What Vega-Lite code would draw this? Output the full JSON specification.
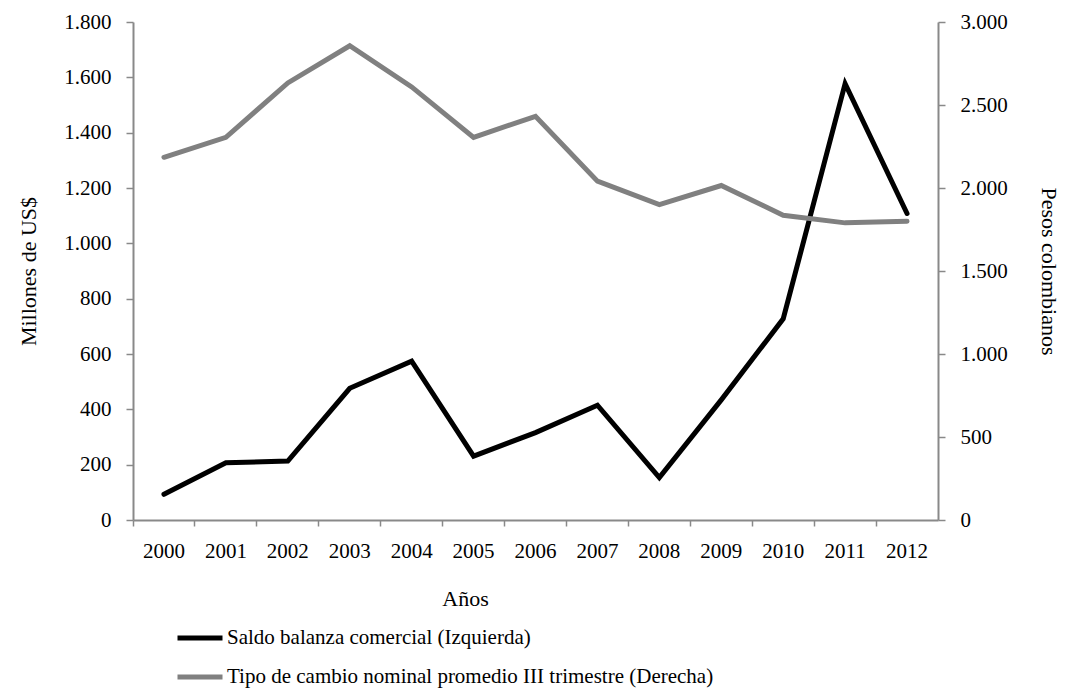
{
  "$schema": "https://vega.github.io/schema/vega-lite/v6.json",
  "width": 805,
  "height": 498,
  "autosize": {"type": "none"},
  "padding": {"left": 133, "top": 22, "right": 135, "bottom": 174},
  "background": "white",
  "config": {
    "font": "Liberation Serif",
    "view": {"stroke": null},
    "axis": {
      "labelFont": "Liberation Serif",
      "titleFont": "Liberation Serif",
      "labelFontSize": 21,
      "titleFontSize": 22,
      "labelColor": "black",
      "titleColor": "black",
      "titleFontWeight": "normal",
      "domainColor": "#898989",
      "tickColor": "#898989",
      "domainWidth": 2,
      "tickWidth": 1.5,
      "grid": false
    },
    "legend": {
      "labelFont": "Liberation Serif",
      "labelFontSize": 21,
      "labelColor": "black"
    }
  },
  "data": {
    "values": [
      {"anio": "2000", "saldo": 93, "tipo": 2185},
      {"anio": "2001", "saldo": 207, "tipo": 2305},
      {"anio": "2002", "saldo": 213, "tipo": 2633},
      {"anio": "2003", "saldo": 476, "tipo": 2857},
      {"anio": "2004", "saldo": 574, "tipo": 2609},
      {"anio": "2005", "saldo": 231, "tipo": 2305},
      {"anio": "2006", "saldo": 316, "tipo": 2432},
      {"anio": "2007", "saldo": 415, "tipo": 2041},
      {"anio": "2008", "saldo": 153, "tipo": 1900},
      {"anio": "2009", "saldo": 434, "tipo": 2015},
      {"anio": "2010", "saldo": 727, "tipo": 1836},
      {"anio": "2011", "saldo": 1577, "tipo": 1790},
      {"anio": "2012", "saldo": 1108, "tipo": 1800}
    ]
  },
  "encoding": {
    "x": {
      "field": "anio",
      "type": "ordinal",
      "scale": {"type": "band", "paddingInner": 0, "paddingOuter": 0},
      "axis": {
        "title": "Años",
        "labelAngle": 0,
        "bandPosition": 0,
        "tickSize": 6,
        "labelPadding": 14,
        "titleX": 332,
        "titleY": 78,
        "titleBaseline": "middle"
      }
    }
  },
  "layer": [
    {
      "mark": {"type": "line", "strokeWidth": 5, "strokeCap": "round", "strokeJoin": "miter"},
      "encoding": {
        "y": {
          "field": "saldo",
          "type": "quantitative",
          "scale": {"domain": [0, 1800]},
          "axis": {
            "title": "Millones de US$",
            "orient": "left",
            "values": [0, 200, 400, 600, 800, 1000, 1200, 1400, 1600, 1800],
            "labelExpr": "replace(format(datum.value, ','), ',', '.')",
            "tickSize": 7,
            "labelPadding": 15,
            "titlePadding": 23
          }
        },
        "color": {
          "datum": "Saldo balanza comercial (Izquierda)",
          "type": "nominal",
          "scale": {
            "domain": ["Saldo balanza comercial (Izquierda)", "Tipo de cambio nominal promedio III trimestre (Derecha)"],
            "range": ["#000000", "#808080"]
          },
          "legend": {
            "title": null,
            "orient": "none",
            "legendX": 42,
            "legendY": 591,
            "symbolType": "stroke",
            "symbolSize": 2025,
            "symbolStrokeWidth": 5,
            "labelOffset": 2,
            "rowPadding": 4,
            "labelLimit": 800
          }
        }
      }
    },
    {
      "mark": {"type": "line", "strokeWidth": 5, "strokeCap": "round", "strokeJoin": "miter"},
      "encoding": {
        "y": {
          "field": "tipo",
          "type": "quantitative",
          "scale": {"domain": [0, 3000]},
          "axis": {
            "title": "Pesos colombianos",
            "orient": "right",
            "values": [0, 500, 1000, 1500, 2000, 2500, 3000],
            "labelExpr": "replace(format(datum.value, ','), ',', '.')",
            "tickSize": 7,
            "labelPadding": 15,
            "titlePadding": 29
          }
        },
        "color": {"datum": "Tipo de cambio nominal promedio III trimestre (Derecha)", "type": "nominal"}
      }
    }
  ],
  "resolve": {"scale": {"y": "independent"}}
}
